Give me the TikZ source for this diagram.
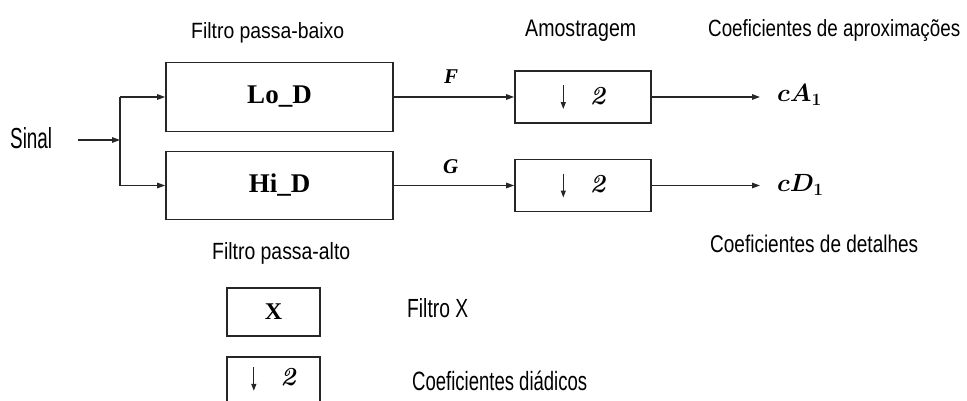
\documentclass[tikz,border=0pt]{standalone}
\usepackage{fontspec}
\usepackage{bm}
\usepackage{graphicx}
\setmainfont{Latin Modern Roman}
\newfontfamily\lblfont{Liberation Sans}
\newfontfamily\serf{Liberation Serif}
\usetikzlibrary{arrows.meta}
\newcommand{\fitlbl}[3]{\resizebox{#1pt}{#2pt}{\lblfont #3}}
\newcommand{\dnarrow}{\tikz[baseline=-19pt]\draw[line width=1.3pt,black!85,-{Triangle[length=7pt,width=5pt]}] (0pt,0pt) -- (0pt,-24pt);}
\newcommand{\twolbl}{{\fontsize{26}{30}\selectfont\bfseries\itshape 2}}
\tikzset{
  blk/.style={draw=black!85, line width=1.6pt, inner sep=0pt, rectangle},
  conn/.style={draw=black!85, line width=1.3pt},
  arr/.style={conn, -{Triangle[length=8pt,width=5.5pt]}},
  lbl/.style={inner sep=0pt, anchor=base west},
}
\begin{document}
\begin{tikzpicture}[x=1pt,y=-1pt]
\useasboundingbox (0,0) rectangle (967,400);
\clip (0,0) rectangle (967,400);
% labels
\node[lbl] (tlow) at (191,38.5) {\fitlbl{153}{16}{Filtro passa-baixo}};
\node[lbl] (tams) at (525,36) {\fitlbl{111}{16.5}{Amostragem}};
\node[lbl] (tapr) at (708,36) {\fitlbl{252}{17}{Coeficientes de aproxima\c{c}\~oes}};
\node[lbl] (tsin) at (10,148) {\fitlbl{42}{21}{Sinal}};
\node[lbl] (tdet) at (710,252) {\fitlbl{208}{17.5}{Coeficientes de detalhes}};
\node[lbl] (thigh) at (212,259) {\fitlbl{138}{17}{Filtro passa-alto}};
\node[lbl] (tfx) at (407,317) {\fitlbl{61}{19}{Filtro X}};
\node[lbl] (tdia) at (412,390) {\fitlbl{175}{19.5}{Coeficientes di\'adicos}};
% blocks
\node[blk, minimum width=227pt, minimum height=69pt] (lo) at (279.5,97) {\fontsize{27}{30}\selectfont\serf\bfseries Lo\_D};
\node[blk, minimum width=227pt, minimum height=68pt] (hi) at (279.5,185.5) {\fontsize{27}{30}\selectfont\serf\bfseries Hi\_D};
\node[blk, minimum width=136pt, minimum height=52pt] (d1) at (583,97) {\dnarrow\hspace{24pt}\twolbl};
\node[blk, minimum width=136pt, minimum height=52pt] (d2) at (583,185.5) {\dnarrow\hspace{24pt}\twolbl};
\node[blk, minimum width=93pt, minimum height=48pt] (lx) at (273.5,312) {\fontsize{24}{28}\selectfont\serf\bfseries X};
\node[blk, minimum width=93pt, minimum height=64pt, anchor=north] (ld) at (273.5,356) {};
\node[inner sep=0pt, anchor=north] (ldc) at (ld.center |- 0,366) {\dnarrow\hspace{24pt}\twolbl};
% math labels
\node[lbl] (lf) at (444,83.5) {\fontsize{21}{24}\selectfont\serf\bfseries\itshape F};
\node[lbl] (lg) at (443,173.5) {\fontsize{21}{24}\selectfont\serf\bfseries\itshape G};
\node[lbl] (ca) at (777,101.5) {\fontsize{23}{26}\selectfont$\bm{cA_1}$};
\node[lbl] (cd) at (777,191.5) {\fontsize{23}{26}\selectfont$\bm{cD_1}$};
% connectors
\coordinate (s0) at (78,140);
\coordinate (jn) at (120,140);
\coordinate (j1) at (120,97);
\coordinate (j2) at (120,185.5);
\coordinate (o1) at (760,97);
\coordinate (o2) at (760,185.5);
\draw[arr] (s0) -- (jn);
\draw[conn] (j1) -- (j2);
\draw[arr] (j1) -- (lo.west);
\draw[arr] (j2) -- (hi.west);
\draw[arr] (lo.east) -- (d1.west);
\draw[arr] (hi.east) -- (d2.west);
\draw[arr] (d1.east) -- (o1);
\draw[arr] (d2.east) -- (o2);
\end{tikzpicture}
\end{document}
